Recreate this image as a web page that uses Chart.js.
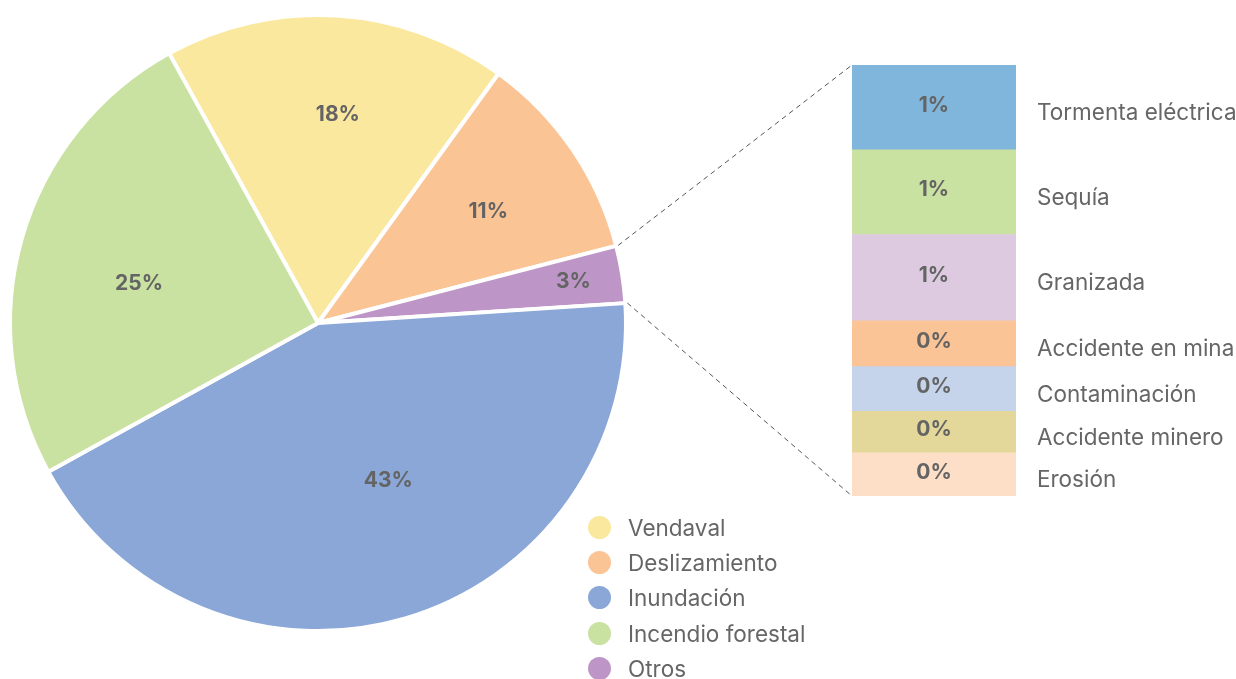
<!DOCTYPE html>
<html>
<head>
<meta charset="utf-8">
<script src="https://cdn.jsdelivr.net/npm/chart.js@4.4.1/dist/chart.umd.min.js"></script>
<style>
  body { margin: 0; background: #fff; width: 1236px; height: 679px; overflow: hidden; font-family: Inter, Roboto, sans-serif; }
  canvas { position: absolute; left: 0; top: 0; }
  #legend { position: absolute; left: 588px; top: 510px; list-style: none; margin: 0; padding: 0; }
  #legend li { height: 35.2px; display: flex; align-items: center; font-size: 22.5px; color: #666; }
  #legend span.dot { width: 23px; height: 23px; border-radius: 50%; margin-right: 17px; display: inline-block; }
</style>
</head>
<body>
<canvas id="pieChart" width="1236" height="679"></canvas>
<canvas id="barChart" width="1236" height="679"></canvas>
<ul id="legend"></ul>
<script>
// -------------------- DATA --------------------
const pieLabels = ["Vendaval", "Deslizamiento", "Otros", "Inundación", "Incendio forestal"];
const pieValues = [18, 11, 3, 43, 25];
const pieColors = ["#fae89f", "#fac495", "#bd96c7", "#8aa7d7", "#c9e1a1"];
const legendOrder = ["Vendaval", "Deslizamiento", "Inundación", "Incendio forestal", "Otros"];

// breakdown of "Otros", top to bottom
const otherLabels = ["Tormenta eléctrica", "Sequía", "Granizada", "Accidente en mina", "Contaminación", "Accidente minero", "Erosión"];
const otherValues = [0.59, 0.59, 0.6, 0.32, 0.31, 0.29, 0.3];
const otherColors = ["#80b5dc", "#c9e1a1", "#ddcae1", "#fac497", "#c5d4eb", "#e3d899", "#fcdfc6"];

// -------------------- PIE --------------------
// label placement inside each slice: share of the sweep, share of the radius
const labelSweep = [0.53, 0.53, 0.5, 0.45, 0.46];
const labelRadius = [0.68, 0.66, 0.84, 0.56, 0.595];

const pieLabelPlugin = {
  id: "pieLabels",
  afterDatasetsDraw(chart) {
    const c = chart.ctx;
    const meta = chart.getDatasetMeta(0);
    c.save();
    c.font = "bold 21px Inter, sans-serif";
    c.fillStyle = "#646464";
    c.textAlign = "center";
    c.textBaseline = "middle";
    meta.data.forEach((arc, i) => {
      const a = arc.startAngle + (arc.endAngle - arc.startAngle) * labelSweep[i];
      const r = arc.outerRadius * labelRadius[i];
      c.fillText(pieValues[i] + "%", arc.x + Math.cos(a) * r, arc.y + Math.sin(a) * r);
    });
    c.restore();
  }
};

const pieChart = new Chart(document.getElementById("pieChart"), {
  type: "pie",
  data: {
    labels: pieLabels,
    datasets: [{
      data: pieValues,
      backgroundColor: pieColors,
      borderColor: "#ffffff",
      borderWidth: 4
    }]
  },
  options: {
    responsive: false,
    animation: false,
    rotation: -28.9,
    layout: { padding: { left: 8, top: 13, right: 608, bottom: 46 } },
    plugins: { legend: { display: false }, tooltip: { enabled: false } }
  },
  plugins: [pieLabelPlugin]
});

// -------------------- STACKED BAR --------------------
const stackOrder = otherLabels.map((_, i) => otherLabels.length - 1 - i);

const barLabelPlugin = {
  id: "barLabels",
  afterDatasetsDraw(chart) {
    const c = chart.ctx;
    c.save();
    // dashed connectors from the "Otros" slice to the bar
    const arc = pieChart.getDatasetMeta(0).data[2];
    const area = chart.chartArea;
    const r = arc.outerRadius;
    c.strokeStyle = "#555";
    c.lineWidth = 1;
    c.setLineDash([5, 4]);
    c.beginPath();
    c.moveTo(arc.x + Math.cos(arc.startAngle) * (r + 2), arc.y + Math.sin(arc.startAngle) * (r + 2));
    c.lineTo(area.left, area.top);
    c.moveTo(arc.x + Math.cos(arc.endAngle) * (r + 2), arc.y + Math.sin(arc.endAngle) * (r + 2));
    c.lineTo(area.left, area.bottom);
    c.stroke();
    c.setLineDash([]);

    chart.data.datasets.forEach((ds, d) => {
      const bar = chart.getDatasetMeta(d).data[0];
      const cy = (bar.y + bar.base) / 2;
      c.font = "bold 21px Inter, sans-serif";
      c.fillStyle = "#646464";
      c.textAlign = "center";
      c.textBaseline = "middle";
      c.fillText(Math.round(ds.data[0]) + "%", bar.x, cy - 2);
      c.font = "22.5px Inter, sans-serif";
      c.fillStyle = "#666";
      c.textAlign = "left";
      c.fillText(ds.label, area.right + 21, cy + 6);
    });
    c.restore();
  }
};

const barChart = new Chart(document.getElementById("barChart"), {
  type: "bar",
  data: {
    labels: ["Otros"],
    datasets: stackOrder.map(i => ({
      label: otherLabels[i],
      data: [otherValues[i]],
      backgroundColor: otherColors[i],
      borderWidth: 0,
      barPercentage: 1,
      categoryPercentage: 1
    }))
  },
  options: {
    responsive: false,
    animation: false,
    layout: { padding: { left: 852, top: 65, right: 220, bottom: 183 } },
    scales: {
      x: { stacked: true, display: false },
      y: { stacked: true, display: false, min: 0, max: otherValues.reduce((a, b) => a + b, 0) }
    },
    plugins: { legend: { display: false }, tooltip: { enabled: false } }
  },
  plugins: [barLabelPlugin]
});

// -------------------- LEGEND --------------------
const legendEl = document.getElementById("legend");
legendOrder.forEach(name => {
  const li = document.createElement("li");
  const dot = document.createElement("span");
  dot.className = "dot";
  dot.style.background = pieColors[pieLabels.indexOf(name)];
  li.appendChild(dot);
  li.appendChild(document.createTextNode(name));
  legendEl.appendChild(li);
});
</script>
</body>
</html>
